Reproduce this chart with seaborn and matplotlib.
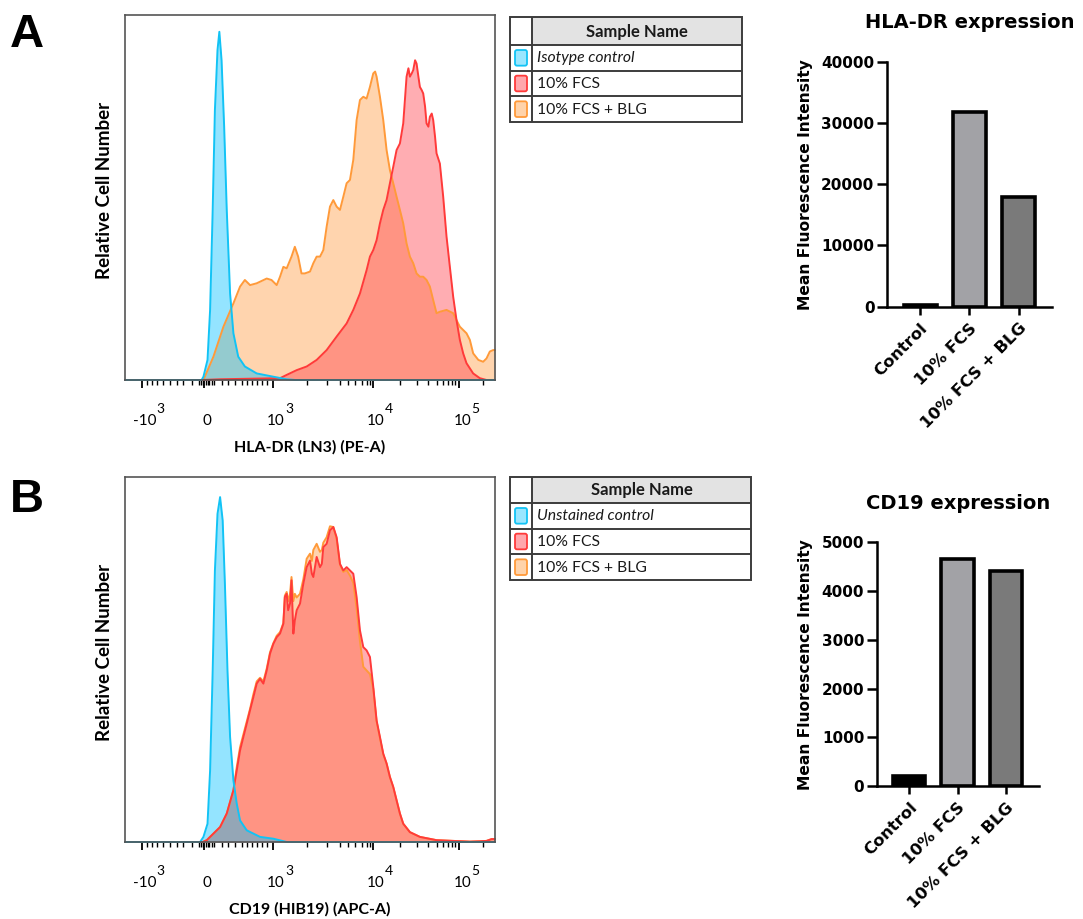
import numpy as np
import pandas as pd
import matplotlib
matplotlib.use("Agg")
import matplotlib.pyplot as plt
import seaborn as sns
from matplotlib.patches import Rectangle, FancyBboxPatch

sns.set_theme(style="white")
plt.rcParams['font.family'] = ['Lato', 'DejaVu Sans']
plt.rcParams['mathtext.default'] = 'regular'
for k in ['text.color', 'axes.labelcolor', 'xtick.color', 'ytick.color']:
    plt.rcParams[k] = 'black'

# ---------------- data: histograms (x = display channel 0-1000, y = % of max scale) -------------
# Panel A  (HLA-DR)
a_blue_x = [0, 207, 212, 223, 230, 237, 243, 250, 255, 261, 268, 275, 284, 293, 306, 324, 356, 401, 437, 460, 1000]
a_blue_y = [0, 0, 0.9, 5.5, 19.2, 46.6, 74.0, 90.4, 95.4, 87.6, 69.4, 46.6, 23.7, 12.8, 6.4, 3.7, 1.8, 0.9, 0.2, 0, 0]

a_red_x = [0, 207, 257, 419, 437, 464, 491, 518, 545, 572, 599, 617, 635, 653, 662, 671, 680, 689, 698, 707,
           716, 725, 734, 743, 752, 761, 766, 770, 775, 779, 784, 788, 793, 797, 802, 806, 811, 815, 820, 824,
           829, 833, 838, 842, 851, 860, 869, 878, 887, 896, 905, 914, 923, 941, 959, 977, 1000]
a_red_y = [0, 0, 0.2, 0.5, 1.4, 2.7, 3.7, 5.5, 8.2, 11.9, 15.5, 19.2, 23.7, 30.1, 33.8, 35.6, 38.3, 42.9, 46.6, 49.3,
           53.9, 58.4, 63.0, 64.8, 70.3, 83.1, 85.4, 83.1, 84.0, 84.9, 87.6, 86.7, 83.1, 80.3, 79.4, 78.5, 74.9, 70.3, 69.4, 72.1,
           73.0, 71.2, 66.6, 62.1, 59.3, 50.2, 39.3, 31.0, 22.8, 16.4, 11.0, 7.3, 4.6, 1.8, 0.5, 0, 0]

a_orange_x = [0, 212, 239, 266, 293, 311, 324, 338, 356, 383, 396, 410, 419, 428, 437, 450, 459, 468, 477, 486,
              500, 509, 518, 527, 536, 545, 554, 563, 572, 581, 590, 599, 608, 617, 626, 635, 644, 653, 662, 671,
              676, 680, 689, 698, 707, 716, 725, 734, 743, 752, 761, 770, 779, 788, 797, 806, 815, 824, 833, 842,
              851, 869, 887, 896, 905, 923, 932, 941, 955, 968, 977, 986, 995, 1000]
a_orange_y = [0, 0, 6.4, 14.6, 21.0, 25.6, 27.4, 26.0, 26.5, 27.8, 27.4, 26.0, 28.3, 31.0, 30.6, 33.8, 36.5, 33.8, 29.2, 29.2,
              29.7, 32.0, 33.8, 33.8, 35.6, 42.0, 47.5, 49.3, 47.5, 46.6, 50.2, 53.9, 54.8, 60.3, 71.2, 76.7, 77.6, 77.1, 80.3, 84.0,
              84.5, 83.1, 77.6, 71.2, 63.0, 57.5, 53.9, 50.2, 46.6, 42.9, 37.4, 33.8, 32.0, 29.2, 28.3, 28.3, 27.4, 25.6, 21.9, 18.3,
              18.7, 19.2, 18.3, 16.4, 14.6, 12.8, 11.0, 7.3, 5.5, 5.0, 5.9, 7.8, 8.2, 8.2]

# Panel B  (CD19)
b_blue_x = [0, 203, 212, 223, 230, 237, 243, 250, 257, 264, 270, 277, 284, 293, 302, 311, 329, 365, 401, 437, 1000]
b_blue_y = [0, 0, 1.4, 5.0, 19.6, 47.0, 74.4, 89.9, 94.5, 88.1, 70.8, 47.0, 28.8, 16.9, 10.5, 5.9, 3.2, 1.4, 0.9, 0, 0]

b_red_x = [0, 210, 221, 239, 257, 275, 293, 302, 311, 320, 329, 338, 347, 356, 365, 374, 383, 392, 401, 410,
           419, 428, 432, 437, 441, 446, 450, 455, 459, 464, 473, 482, 491, 500, 505, 509, 518, 527, 532, 536,
           545, 554, 563, 572, 581, 590, 599, 608, 617, 626, 635, 644, 653, 662, 671, 680, 689, 698, 707, 716,
           725, 734, 743, 752, 770, 797, 842, 887, 932, 959, 977, 991, 1000]
b_red_y = [0, 0, 0.5, 2.3, 4.1, 7.8, 14.2, 19.6, 25.1, 28.8, 32.4, 36.1, 39.7, 43.4, 44.7, 43.4, 47.0, 51.6, 54.3, 56.1,
           57.1, 59.8, 67.1, 68.0, 63.5, 65.3, 71.7, 57.1, 60.7, 63.5, 65.3, 70.8, 75.3, 77.1, 73.5, 72.6, 78.1, 75.3, 76.2, 80.8,
           81.7, 85.4, 86.3, 83.5, 76.2, 74.4, 75.3, 74.4, 73.5, 67.1, 58.0, 53.4, 52.5, 50.7, 42.5, 33.3, 28.8, 24.2, 21.5, 17.8,
           15.1, 11.4, 7.8, 5.0, 2.7, 1.4, 0.5, 0.3, 0.1, 0.2, 0.3, 0.8, 0.8]

b_orange_x = [0, 210, 221, 239, 257, 275, 293, 302, 311, 320, 329, 338, 347, 356, 365, 374, 383, 392, 401, 410,
              419, 428, 432, 437, 441, 446, 450, 455, 459, 464, 473, 482, 491, 500, 505, 509, 518, 527, 532, 536,
              545, 554, 563, 572, 581, 590, 599, 608, 617, 626, 635, 644, 653, 662, 671, 680, 689, 698, 707, 716,
              725, 734, 743, 752, 770, 797, 842, 887, 932, 959, 977, 991, 1000]
b_orange_y = [0, 0, 0.5, 2.3, 4.1, 7.8, 14.2, 20.5, 26.0, 29.5, 33.0, 36.5, 40.5, 44.0, 45.0, 44.0, 47.5, 52.0, 54.5, 56.5,
              57.5, 60.0, 67.5, 68.5, 66.0, 68.0, 72.6, 66.0, 68.0, 67.0, 68.0, 72.0, 77.6, 79.0, 77.0, 80.0, 81.7, 79.5, 80.0, 82.0,
              83.5, 86.5, 86.3, 83.0, 76.0, 74.0, 74.5, 73.0, 71.0, 64.0, 55.0, 48.0, 47.0, 46.0, 42.0, 33.0, 28.5, 24.0, 21.5, 17.8,
              15.0, 11.5, 7.8, 5.0, 2.7, 1.4, 0.5, 0.3, 0.1, 0.2, 0.3, 0.8, 0.8]

# x-axis ticks (display channel of each decade label)
major_tick_pos = [45, 214, 399, 670, 903]
tick_base = ['-10', '0', '10', '10', '10']
tick_sup = ['3', '', '3', '4', '5']
minor_tick_pos = [59, 72, 86, 104, 122, 140, 158, 180, 201, 205, 210, 219, 223, 228, 234, 240,
                  261, 279, 297, 315, 329, 342, 356, 369, 383,
                  491, 545, 581, 604, 622, 640, 653, 662,
                  743, 788, 820, 842, 860, 874, 883, 892, 968]

# ---------------- data: bar charts ----------------
groups = ['Control', '10% FCS', '10% FCS + BLG']
hla_mfi = [300, 31800, 17900]
cd19_mfi = [205, 4660, 4420]

legend_a = ['Isotype control', '10% FCS', '10% FCS + BLG']
legend_b = ['Unstained control', '10% FCS', '10% FCS + BLG']

# ---------------- styling ----------------
LINE = {'blue': '#12C3F5', 'red': '#FF3A3A', 'orange': '#FF9A3A'}
FILL = {'blue': '#00C0FF', 'red': '#FF3C48', 'orange': '#FF9A40'}
SW_FILL = {'blue': '#9AE6FF', 'red': '#FFA7AC', 'orange': '#FFD3AA'}
BAR_COLORS = {'Control': '#000000', '10% FCS': '#A2A2A6', '10% FCS + BLG': '#7A7A7A'}

W, H = 1083, 919
fig = plt.figure(figsize=(W / 100, H / 100), dpi=100)
pending_sup = []


def px_axes(left, top, right, bottom):
    return fig.add_axes([left / W, 1 - bottom / H, (right - left) / W, (bottom - top) / H])


def draw_hist(ax, curves, xlabel):
    for key, xs, ys in curves:
        ax.fill_between(xs, 0, ys, color=FILL[key], alpha=0.42, linewidth=0)
    for key, xs, ys in curves:
        sns.lineplot(x=xs, y=ys, ax=ax, color=LINE[key], linewidth=1.4, estimator=None, sort=False)
        ax.lines[-1].set_clip_on(False)
    ax.set_xlim(0, 1000)
    ax.set_ylim(0, 100)
    ax.set_yticks([])
    ax.set_xticks(major_tick_pos)
    ax.set_xticklabels([''] * len(major_tick_pos))
    ax.set_xticks(minor_tick_pos, minor=True)
    ax.tick_params(axis='x', which='major', direction='out', length=6, width=1.3, color='black', bottom=True)
    ax.tick_params(axis='x', which='minor', direction='out', length=3.5, width=1.0, color='black', bottom=True)
    for s in ax.spines.values():
        s.set_color('#555555')
        s.set_linewidth(1.2)
    # decade labels: base number + raised exponent
    for pos, base, sup in zip(major_tick_pos, tick_base, tick_sup):
        t = ax.annotate(base, xy=(pos, 0), xycoords=('data', 'axes fraction'), xytext=(2.2, -32.5),
                        textcoords='offset points', ha='center', va='baseline', fontsize=11)
        if sup:
            pending_sup.append((ax, pos, t, sup))
    ax.set_xlabel(xlabel, fontsize=11.5, fontweight='bold')
    ax.xaxis.set_label_coords(0.5, -0.165)
    ax.set_ylabel('Relative Cell Number', fontsize=13.5, fontweight='bold')
    ax.yaxis.set_label_coords(-0.033, 0.52)
    ax.grid(False)


def draw_table(left, top, right, bottom, names, header_h):
    ax = px_axes(left, top, right, bottom)
    w, h = right - left, bottom - top
    ax.set_xlim(0, w)
    ax.set_ylim(h, 0)
    ax.axis('off')
    row_h = (h - header_h) / 3
    ax.add_patch(Rectangle((22, 0), w - 22, header_h, facecolor='#E3E3E3', edgecolor='none'))
    ec = '#3c3c3c'
    ax.add_patch(Rectangle((0, 0), w, h, facecolor='none', edgecolor=ec, linewidth=1.4, clip_on=False))
    ax.plot([22, 22], [0, h], color=ec, linewidth=1.4)
    for i in range(3):
        y = header_h + i * row_h
        ax.plot([0, w], [y, y], color=ec, linewidth=1.4)
    ax.text(22 + (w - 22) / 2, header_h / 2 + 0.5, 'Sample Name', ha='center', va='center',
            fontsize=12, fontweight='bold', color='#1a1a1a')
    keys = ['blue', 'red', 'orange']
    for i, (name, key) in enumerate(zip(names, keys)):
        y0 = header_h + i * row_h
        ax.add_patch(FancyBboxPatch((5, y0 + 5), 12, row_h - 10,
                                    boxstyle='round,pad=0,rounding_size=2',
                                    facecolor=SW_FILL[key], edgecolor=LINE[key], linewidth=1.3))
        ax.text(27, y0 + row_h / 2 + 0.5, name, ha='left', va='center', fontsize=11.3,
                style='italic' if i == 0 else 'normal', color='#1a1a1a')


def draw_bars(ax, values, ymax, step, title):
    df = pd.DataFrame({'group': groups, 'mfi': values})
    sns.barplot(data=df, x='group', y='mfi', hue='group', palette=BAR_COLORS, order=groups,
                hue_order=groups, edgecolor='black', linewidth=2.6, width=0.67, saturation=1,
                legend=False, ax=ax)
    ax.set_xlim(-0.67, 2.68)
    ax.set_ylim(0, ymax)
    ax.set_yticks(np.arange(0, ymax + 1, step))
    ax.set_yticklabels([str(int(v)) for v in np.arange(0, ymax + 1, step)],
                       fontsize=11, fontweight='bold', family='DejaVu Sans')
    ax.set_xticks(range(3))
    ax.set_xticklabels(groups, rotation=45, ha='right', rotation_mode='anchor',
                       fontsize=11.8, fontweight='bold', family='DejaVu Sans')
    for side in ['top', 'right']:
        ax.spines[side].set_visible(False)
    for side in ['left', 'bottom']:
        ax.spines[side].set_color('black')
        ax.spines[side].set_linewidth(1.8)
    ax.tick_params(axis='y', direction='out', length=7, width=1.8, pad=2, left=True)
    ax.tick_params(axis='x', direction='out', length=6, width=1.8, pad=4, bottom=True)
    ax.set_xlabel('')
    ax.set_ylabel('Mean Fluorescence Intensity', fontsize=11.2, fontweight='bold', family='DejaVu Sans', labelpad=6)
    ax.set_title(title, fontsize=14, fontweight='bold', family='DejaVu Sans', pad=24)
    ax.grid(False)


# Panel A
axA = px_axes(125, 15, 495, 380)
draw_hist(axA, [('orange', a_orange_x, a_orange_y), ('red', a_red_x, a_red_y), ('blue', a_blue_x, a_blue_y)],
          'HLA-DR (LN3) (PE-A)')
draw_table(510, 17, 742, 122, legend_a, 28)
axA2 = px_axes(887, 61.7, 1052, 306.7)
draw_bars(axA2, hla_mfi, 40000, 10000, 'HLA-DR expression')

# Panel B
axB = px_axes(125, 477, 495, 842)
draw_hist(axB, [('orange', b_orange_x, b_orange_y), ('red', b_red_x, b_red_y), ('blue', b_blue_x, b_blue_y)],
          'CD19 (HIB19) (APC-A)')
draw_table(510, 477, 751, 580, legend_b, 26)
axB2 = px_axes(876.7, 542.3, 1039, 786)
draw_bars(axB2, cd19_mfi, 5000, 1000, 'CD19 expression')

fig.text(27 / W, 1 - 35 / H, 'A', fontsize=34, fontweight='bold', family='Liberation Sans', ha='center', va='center')
fig.text(27 / W, 1 - 500 / H, 'B', fontsize=34, fontweight='bold', family='Liberation Sans', ha='center', va='center')

# place exponents right after their base numbers
fig.canvas.draw()
renderer = fig.canvas.get_renderer()
for ax, pos, t, sup in pending_sup:
    bb = t.get_window_extent(renderer)
    tick_x = ax.transData.transform((pos, 0))[0]
    dx_pt = (bb.x1 - tick_x) * 72 / fig.dpi + 0.3
    ax.annotate(sup, xy=(pos, 0), xycoords=('data', 'axes fraction'), xytext=(dx_pt, -24.0),
                textcoords='offset points', ha='left', va='baseline', fontsize=10)

fig.savefig('out.png', dpi=100, facecolor='white')
